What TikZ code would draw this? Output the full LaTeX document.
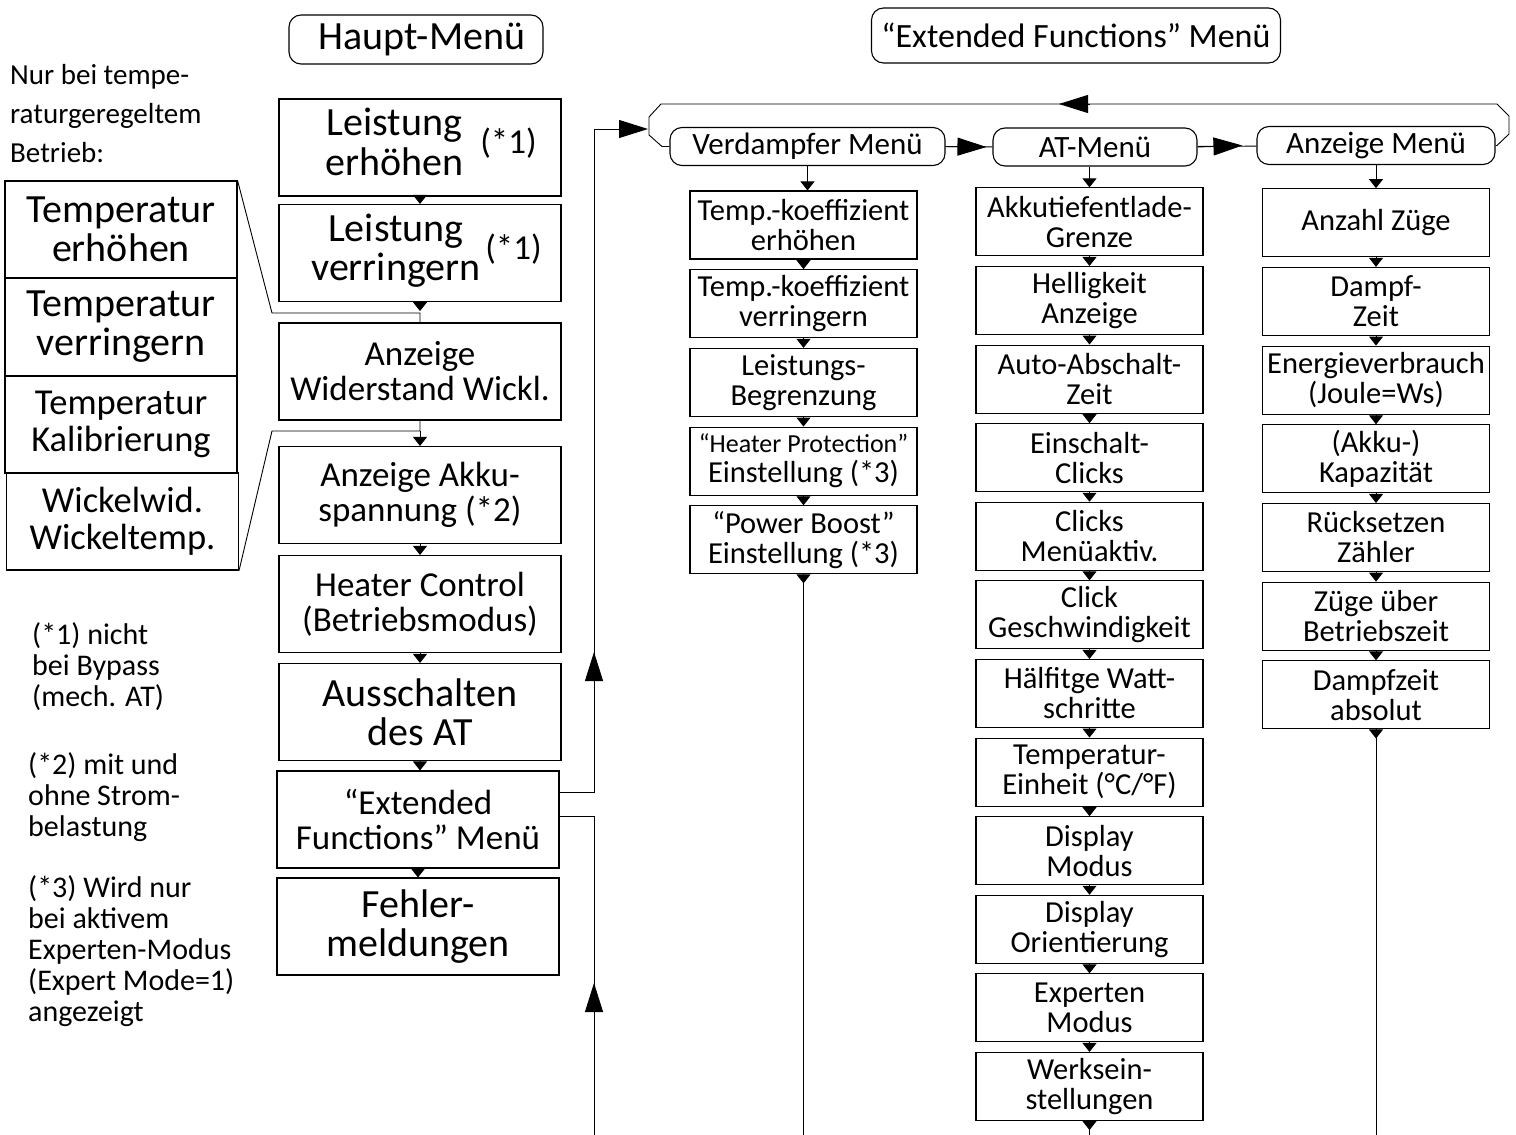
\documentclass[tikz,border=0pt]{standalone}
\usepackage{fontspec}
\setmainfont{Carlito}
\usetikzlibrary{arrows.meta}
\tikzstyle{menubox}=[rectangle, draw, line width=1.1pt, minimum width=282pt, minimum height=97pt, inner sep=0, align=center, font=\fontsize{35}{35}\selectfont]
\tikzstyle{bigtext}=[font=\fontsize{40}{39}\selectfont]
\tikzstyle{sidebox}=[rectangle, draw, line width=1.1pt, minimum width=232pt, minimum height=97pt, inner sep=0, align=center, font=\fontsize{40}{39}\selectfont]
\tikzstyle{subbox}=[rectangle, draw, line width=1.1pt, minimum width=227pt, minimum height=68pt, inner sep=0, align=center, font=\fontsize{30.5}{30}\selectfont]
\tikzstyle{headbox}=[rectangle, rounded corners=12pt, draw, line width=1.1pt, inner sep=0, align=center]
\tikzstyle{subhead}=[headbox, minimum height=38pt, font=\fontsize{31}{31}\selectfont]
\tikzstyle{note}=[anchor=west, align=left, inner sep=0, font=\fontsize{30}{31}\selectfont]
\tikzstyle{tri}=[line width=0.9pt, -{Triangle[width=14pt,length=9pt]}]
\tikzstyle{bigtri}=[line width=0.9pt, -{Triangle[width=18pt,length=29pt]}]
\tikzstyle{wire}=[line width=0.9pt]

\begin{document}
\begin{tikzpicture}[x=1pt,y=-1pt]
\useasboundingbox (0,0) rectangle (1516,1135);

% headers
\node[headbox, minimum width=254pt, minimum height=49pt, font=\fontsize{40}{40}\selectfont] (haupt) at (416,39.5) {\hspace{12pt}Haupt-Menü};
\node[headbox, minimum width=409pt, minimum height=55pt, font=\fontsize{34}{34}\selectfont] (exthead) at (1076,35.5) {“Extended Functions” Menü};

% notes
\node[note, font=\fontsize{29}{39}\selectfont] (nur) at (10,114) {Nur bei tempe-\\raturgeregeltem\\Betrieb:};
\node[note] (note1) at (32,667) {(*1) nicht\\bei Bypass\\(mech. AT)};
\node[note] (note2) at (28,797) {(*2) mit und\\ohne Strom-\\belastung};
\node[note] (note3) at (28,951) {(*3) Wird nur\\bei aktivem\\Experten-Modus\\(Expert Mode=1)\\angezeigt};

% main menu
\node[menubox, bigtext] (lup) at (420,147.5) {\hspace{22pt}\begin{tabular}{@{}c@{}}Leistung\\erhöhen\end{tabular}\hspace{17pt}{\fontsize{35}{35}\selectfont(*1)}};
\node[menubox, bigtext] (ldown) at (420,253) {\hspace{13pt}\begin{tabular}{@{}c@{}}Leistung\\verringern\end{tabular}\hspace{5pt}{\fontsize{35}{35}\selectfont(*1)}};
\node[menubox] (wid) at (420,371.5) {Anzeige\\Widerstand Wickl.};
\node[menubox] (akku) at (420,495) {Anzeige Akku-\\spannung (*2)};
\node[menubox] (heat) at (420,604) {Heater Control\\(Betriebsmodus)};
\node[menubox, bigtext] (aus) at (420,712) {Ausschalten\\des AT};
\node[menubox] (ext) at (418,819.5) {“Extended\\Functions” Menü};
\node[menubox, bigtext] (err) at (418,926.5) {Fehler-\\meldungen};

\foreach \a/\b in {lup/ldown, akku/heat, heat/aus}
  \draw[tri] (\a.south) -- (\b.north);
\draw[tri] (aus.south) -- (aus.south |- ext.north);
\draw[tri] (ext.south) -- (err.north);
\draw[tri] (ldown.south) -- ++(0,9);

% temperature items
\node[sidebox] (terh) at (121,229.5) {Temperatur\\erhöhen};
\node[sidebox] (tver) at (121,327) {Temperatur\\verringern};
\node[sidebox, font=\fontsize{36.5}{37}\selectfont] (tkal) at (121,424.5) {Temperatur\\Kalibrierung};
\node[sidebox, font=\fontsize{36.5}{37}\selectfont] (wick) at (122.5,521.5) {Wickelwid.\\Wickeltemp.};

\coordinate (c1) at (272,313);
\coordinate (c2) at (272,431);
\draw[wire] (terh.north east) -- (c1) -| (wid.north);
\draw[wire] (wick.south east) -- (c2) -| (wid.south);
\draw[tri] (c2 -| akku.north) -- (akku.north);

% sub menu headers
\node[subhead, minimum width=275pt] (verd) at (807.5,146.5) {Verdampfer Menü};
\node[subhead, minimum width=204pt] (atm) at (1095,147) {AT-Menü};
\node[subhead, minimum width=238pt] (anz) at (1376,145.5) {Anzeige Menü};

\draw[wire] (verd) -- (atm);
\draw[wire] (atm) -- (anz);
\draw[bigtri] (verd.east) -- ([xshift=-6pt]atm.west);
\draw[bigtri] (atm.east) -- ([xshift=-14pt]anz.west);

% loop round the sub menus
\draw[wire] (verd.west) -- (662,146.5) -- (649,135) -- (649,117) -- (661,104) -- (1497,104) -- (1509,116) -- (1509,134) -- (1497,145.5) -- (anz.east);
\coordinate (looptop) at (1059,104);
\draw[bigtri] ([xshift=31pt]looptop) -- (looptop);

% way in and way back
\coordinate (rise) at (594,129);
\coordinate (entry) at (648,129);
\coordinate (fall) at (594,1135);
\coordinate (uptip) at (594,652);
\coordinate (uptipb) at (594,983);
\draw[bigtri] ([yshift=27.5pt]ext.east) -| (rise) -- (entry);
\draw[wire] ([yshift=3.5pt]ext.east) -| (fall);
\draw[bigtri] ([yshift=-28pt]uptip) -- (uptip);
\draw[bigtri] ([yshift=-28pt]uptipb) -- (uptipb);

% Verdampfer column
\foreach \txt [count=\i] in {{Temp.-koeffizient\\erhöhen}, {Temp.-koeffizient\\verringern}, {Leistungs-\\Begrenzung}, {\fontsize{26}{27}\selectfont “Heater Protection”\\Einstellung (*3)}, {“Power Boost”\\Einstellung (*3)}}
  \node[subbox] (v\i) at (803.5,{146.3+78.7*\i}) {\txt};
\draw[tri] (verd.south) -- (verd.south |- v1.north);
\foreach \b [count=\a] in {2,...,5}
  \draw[tri] (v\a.south) -- (v\b.north);

% AT column
\foreach \txt [count=\i] in {{Akkutiefentlade-\\Grenze}, {Helligkeit\\Anzeige}, {Auto-Abschalt-\\Zeit}, {Einschalt-\\Clicks}, {Clicks\\Menüaktiv.}, {Click\\Geschwindigkeit}, {Hälfitge Watt-\\schritte}, {Temperatur-\\Einheit (°C/°F)}, {Display\\Modus}, {Display\\Orientierung}, {Experten\\Modus}, {Werksein-\\stellungen}}
  \node[subbox] (at\i) at (1089.5,{143.3+78.6*\i}) {\txt};
\draw[tri] (atm.south -| at1.north) -- (at1.north);
\foreach \b [count=\a] in {2,...,12}
  \draw[tri] (at\a.south) -- (at\b.north);

% Anzeige column
\foreach \txt [count=\i] in {{Anzahl Züge}, {Dampf-\\Zeit}, {Energieverbrauch\\(Joule=Ws)}, {(Akku-)\\Kapazität}, {Rücksetzen\\Zähler}, {Züge über\\Betriebszeit}, {Dampfzeit\\absolut}}
  \node[subbox] (z\i) at (1376,{144+78.7*\i}) {\txt};
\draw[tri] (anz.south) -- (z1.north);
\foreach \b [count=\a] in {2,...,7}
  \draw[tri] (z\a.south) -- (z\b.north);

% lines going down
\coordinate (vend) at (803.5,1135);
\coordinate (atend) at (1089.5,1135);
\coordinate (zend) at (1376,1135);
\draw[wire] (v5.south) -- (vend);
\draw[wire] (at12.south) -- (atend);
\draw[wire] (z7.south) -- (zend);
\draw[tri] (v5.south) -- ++(0,9);
\draw[tri] (at12.south) -- ++(0,9);
\draw[tri] (z7.south) -- ++(0,9);
\end{tikzpicture}
\end{document}
